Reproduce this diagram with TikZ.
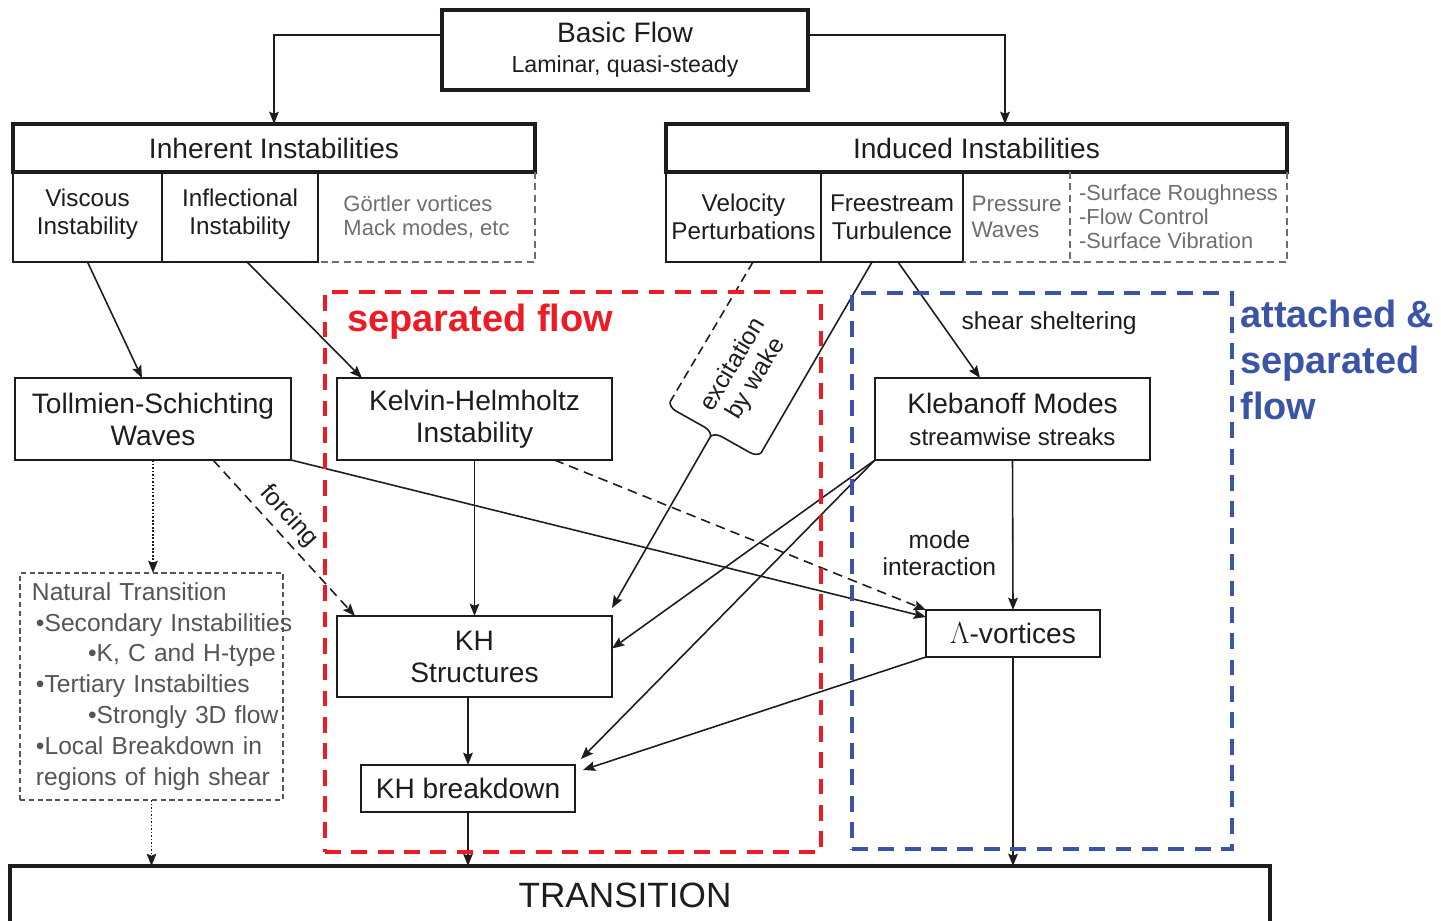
\documentclass[tikz,border=0pt]{standalone}
\usepackage{fontspec}
\setmainfont{Liberation Sans}
\usepackage{xcolor}
\usepackage{tikz}
\definecolor{sepRed}{RGB}{237,28,36}
\definecolor{attBlue}{RGB}{59,84,166}
\definecolor{lineInk}{RGB}{30,28,28}
\definecolor{noteGray}{RGB}{110,110,110}
\definecolor{boxGray}{RGB}{85,85,85}
\usetikzlibrary{arrows.meta, positioning, calc, decorations.pathreplacing}

\newcommand{\fsz}[2]{\fontsize{#1}{#2}\selectfont}

\begin{document}
\begin{tikzpicture}[
    x=0.2mm, y=-0.2mm,
    box/.style={draw=lineInk, text=lineInk, line width=1.1pt, align=center, inner sep=1pt, outer sep=0pt, font=\fsz{16}{18.2}},
    topbox/.style={box, line width=2.4pt},
    head/.style={box, line width=2.2pt, minimum height=9.6mm},
    cell/.style={box, minimum height=18mm, anchor=north west, font=\fsz{13.8}{16}},
    soft/.style={cell, draw=none, text=noteGray, align=left, font=\fsz{12.5}{14}},
    softedge/.style={draw=noteGray, line width=0.9pt, dash pattern=on 4pt off 2.5pt},
    zone/.style={line width=2.3pt, dash pattern=on 9pt off 6pt, outer sep=0pt},
    arr/.style={draw=lineInk, line width=0.9pt, -{Stealth[length=7pt, width=5.5pt, inset=1.2pt]}},
    dasharr/.style={arr, dash pattern=on 5.5pt off 3.5pt},
    dotarr/.style={arr, dash pattern=on 1pt off 1pt},
    lbl/.style={font=\fsz{14}{15.4}, text=lineInk, align=center}
]
    \useasboundingbox (0,0) rectangle (1441,921);

    % top of the tree
    \node[topbox, minimum width=73.2mm, minimum height=16mm] (basic) at (625,50) {Basic Flow\\[-1pt]{\fsz{13.2}{15}Laminar, quasi-steady}};

    % inherent instabilities
    \node[head, minimum width=104.4mm] (inherent) at (274,148) {Inherent Instabilities};
    \node[cell, minimum width=29.8mm] (viscous) at (inherent.south west) {Viscous\\Instability\\[-10pt]};
    \node[cell, minimum width=31.2mm] (inflect) at (viscous.north east) {Inflectional\\Instability\\[-10pt]};
    \node[soft, minimum width=43.4mm] (goertler) at (inflect.north east) {Görtler vortices\\Mack modes, etc};
    \draw[softedge] (goertler.north east) -- (goertler.south east) -- (goertler.south west);

    % induced instabilities
    \node[head, minimum width=124.2mm] (induced) at (976.5,148) {Induced Instabilities};
    \node[cell, minimum width=31mm] (velocity) at (induced.south west) {Velocity\\Perturbations};
    \node[cell, minimum width=28.4mm] (freestream) at (velocity.north east) {Freestream\\Turbulence};
    \node[soft, minimum width=21.4mm, font=\fsz{12.8}{14.5}] (pressure) at (freestream.north east) {Pressure\\Waves};
    \node[soft, minimum width=43.4mm, font=\fsz{12.4}{13.7}] (surface) at (pressure.north east) {-Surface Roughness\\-Flow Control\\-Surface Vibration};
    \draw[softedge] (pressure.north east) -- (pressure.south east);
    \draw[softedge] (surface.north east) -- (surface.south east) -- (pressure.south west);

    % instability modes
    \node[box, minimum width=55.2mm, minimum height=16.4mm] (ts) at (153,419) {Tollmien-Schichting\\Waves};
    \node[box, minimum width=55mm, minimum height=16.4mm] (kh) at (474.5,419) {Kelvin-Helmholtz\\Instability};
    \node[box, minimum width=55mm, minimum height=16.4mm] (kleb) at (1012.5,419) {Klebanoff Modes\\{\fsz{13.7}{16}streamwise streaks}};

    \node[box, draw=boxGray, text=boxGray, line width=0.8pt, dash pattern=on 3pt off 2pt, align=left,
          text width=47.8mm, inner xsep=2.4mm, minimum height=45.4mm, font=\fsz{14}{17.6}] (natural) at (151.5,686.5)
        {\mbox{Natural Transition}\\
         \mbox{\hspace*{0.8mm}•Secondary Instabilities}\\
         \mbox{\hspace*{11.2mm}•K, C and H-type}\\
         \mbox{\hspace*{0.8mm}•Tertiary Instabilties}\\
         \mbox{\hspace*{11.2mm}•Strongly 3D flow}\\
         \mbox{\hspace*{0.8mm}•Local Breakdown in}\\
         \mbox{\hspace*{0.8mm}regions of high shear}};

    \node[box, minimum width=55mm, minimum height=16.2mm] (khs) at (474.5,656.5) {KH\\Structures};
    \node[box, minimum width=42.8mm, minimum height=9.4mm] (kbd) at (468,788.5) {KH breakdown};
    \node[box, minimum width=34.8mm, minimum height=9.4mm] (lam) at (1013,633.5) {$\Lambda$-vortices};

    \node[box, line width=2pt, minimum width=252mm, minimum height=11.6mm, font=\fsz{20}{22}] (trans) at (640,895) {TRANSITION\hspace*{6mm}};

    % connections
    \draw[arr] ([yshift=3mm]basic.west) -| (inherent.north);
    \draw[arr] ([yshift=3mm]basic.east) -| ([xshift=5.7mm]induced.north);
    \draw[arr] (viscous.south) -- ([xshift=-2.2mm]ts.north);
    \draw[arr] ([xshift=1.4mm]inflect.south) -- ([xshift=5mm]kh.north west);

    % wake excitation bracket
    \coordinate (wakeA) at (670,402);
    \coordinate (wakeB) at (761,453);
    \coordinate (wakeTip) at ($(wakeA)!0.5!(wakeB)!2mm!-90:(wakeB)$);
    \draw[lineInk, line width=0.9pt, dash pattern=on 5pt off 3pt] ([xshift=1.9mm]velocity.south) -- (wakeA);
    \draw[lineInk, line width=0.9pt] ([xshift=-4mm]freestream.south) -- (wakeB);
    \draw[lineInk, line width=0.9pt, decorate, decoration={brace, amplitude=2mm}] (wakeB) -- (wakeA);
    \node[lbl, rotate=59] (wakelbl) at (745,372) {excitation\\by wake};
    \draw[arr] (wakeTip) -- ([yshift=1.6mm]khs.north east);

    \draw[arr] ([xshift=1.2mm]freestream.south) -- ([xshift=-6.5mm]kleb.north)
        node[lbl, midway, right=3.2mm, yshift=-0.6mm] {shear sheltering};

    \draw[dotarr] (ts.south) -- (ts.south |- natural.north);
    \draw[dasharr] ([xshift=12mm]ts.south) -- ([xshift=3.6mm]khs.north west)
        node[lbl, pos=0.44, sloped, above] {forcing};
    \draw[arr] (ts.south east) -- ([yshift=3.3mm]lam.west);
    \draw[arr] (kh.south) -- (khs.north);
    \draw[dasharr] ([xshift=16mm]kh.south) -- (lam.north west);
    \draw[arr] (kleb.south west) -- ([yshift=1.6mm]khs.east);
    \draw[arr] (kleb.south west) -- ([xshift=1.2mm, yshift=1.2mm]kbd.north east);
    \draw[arr] (kleb.south) -- (lam.north)
        node[lbl, pos=0.62, left=2mm] {mode\\interaction};
    \draw[arr] (lam.south west) -- ([xshift=1.6mm, yshift=-1mm]kbd.north east);
    \draw[arr] (kbd.north |- khs.south) -- (kbd.north);
    \draw[arr] (kbd.south) -- (kbd.south |- trans.north);
    \draw[arr] (lam.south) -- (lam.south |- trans.north);
    \draw[dotarr] (natural.south) -- (natural.south |- trans.north);

    % flow regimes
    \node[zone, draw=sepRed, minimum width=99.2mm, minimum height=112mm] (sepzone) at (573,572) {};
    \node[zone, draw=attBlue, minimum width=76mm, minimum height=111.2mm] (attzone) at (1042,571) {};
    \node[anchor=west, inner sep=0pt, text=sepRed, font=\bfseries\fsz{21.6}{26}] (seplbl)
        at ([xshift=4.4mm, yshift=-6mm]sepzone.north west) {separated flow};
    \node[anchor=north west, inner sep=0pt, align=left, text=attBlue, font=\bfseries\fsz{21.6}{26}] (attlbl)
        at ([xshift=1.6mm, yshift=-1.4mm]attzone.north east) {attached \&\\separated\\flow};
\end{tikzpicture}
\end{document}
